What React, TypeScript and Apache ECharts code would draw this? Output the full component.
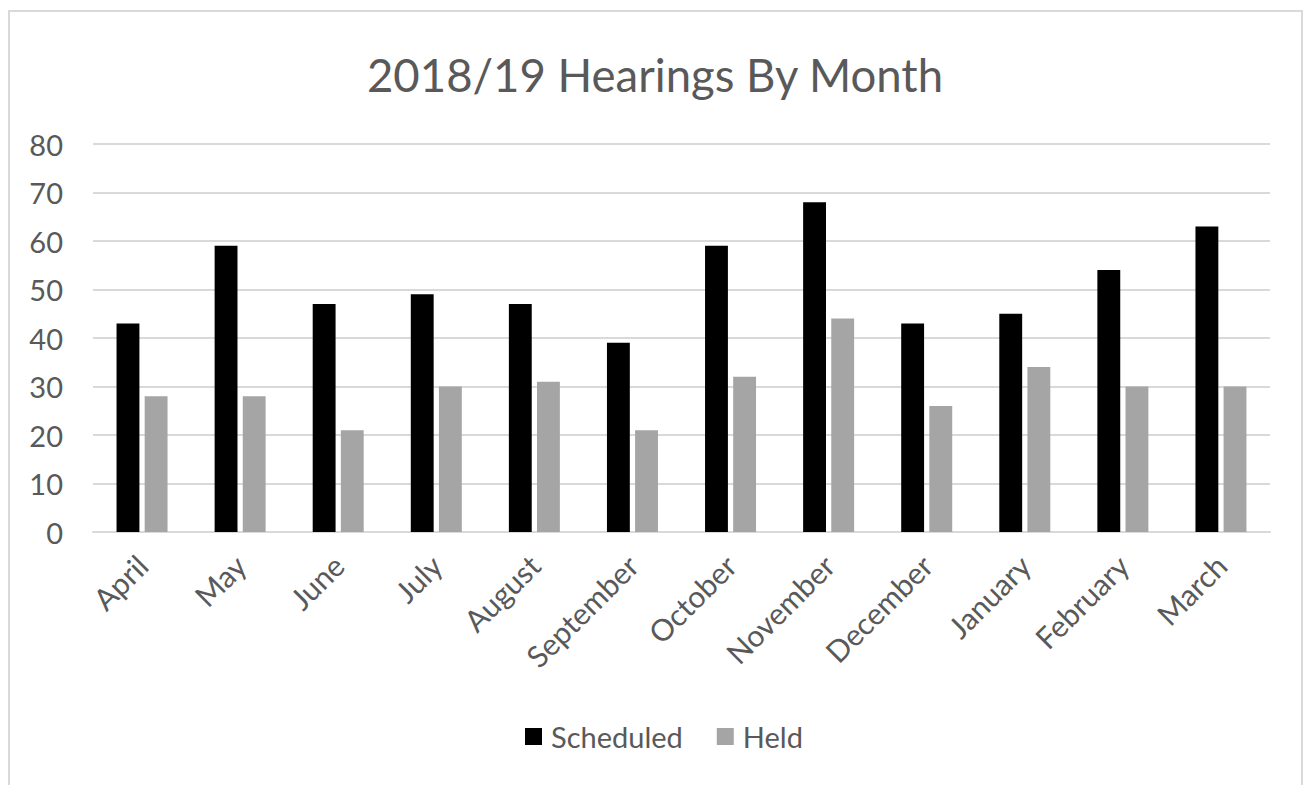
import React, { useEffect, useRef } from "react";
import * as echarts from "echarts";

const months = ["April", "May", "June", "July", "August", "September", "October", "November", "December", "January", "February", "March"];
const scheduled = [43, 59, 47, 49, 47, 39, 59, 68, 43, 45, 54, 63];
const held = [28, 28, 21, 30, 31, 21, 32, 44, 26, 34, 30, 30];
const titleText = "2018/19 Hearings By Month";

const FONT = "Lato";
const TEXT = "#595959";

export default function App() {
  const ref = useRef<HTMLDivElement>(null);
  useEffect(() => {
    if (!ref.current) return;
    const chart = echarts.init(ref.current, undefined, { renderer: "svg" });
    chart.setOption({
      animation: false,
      backgroundColor: "#ffffff",
      title: {
        text: titleText,
        left: "center",
        top: 46,
        textStyle: { fontFamily: FONT, fontSize: 45.5, fontWeight: "normal", color: TEXT },
      },
      graphic: [
        {
          type: "rect",
          shape: { x: 9, y: 11, width: 1293, height: 820 },
          style: { fill: "none", stroke: "#d9d9d9", lineWidth: 2 },
          silent: true,
        },
      ],
      legend: {
        top: 717,
        left: 520,
        itemWidth: 17,
        itemHeight: 17,
        itemGap: 34,
        icon: "rect",
        textStyle: { fontFamily: FONT, fontSize: 29, color: TEXT, padding: [0, 0, 0, 4] },
        data: ["Scheduled", "Held"],
      },
      grid: { left: 93, right: 40, top: 144, bottom: 253 },
      xAxis: {
        type: "category",
        data: months,
        axisLine: { show: true, lineStyle: { color: "#d9d9d9", width: 2 } },
        axisTick: { show: false },
        axisLabel: { rotate: 45, fontFamily: FONT, fontSize: 30, color: TEXT, margin: 28, interval: 0 },
      },
      yAxis: {
        type: "value",
        min: 0,
        max: 80,
        interval: 10,
        axisLine: { show: false },
        axisTick: { show: false },
        splitLine: { lineStyle: { color: "#d9d9d9", width: 2 } },
        axisLabel: { fontFamily: FONT, fontSize: 29, color: TEXT, margin: 30 },
      },
      series: [
        {
          name: "Scheduled",
          type: "bar",
          data: scheduled,
          itemStyle: { color: "#000000" },
          barGap: "23%",
          barCategoryGap: "48%",
        },
        {
          name: "Held",
          type: "bar",
          data: held,
          itemStyle: { color: "#a5a5a5" },
          barGap: "23%",
          barCategoryGap: "48%",
        },
      ],
    });
    return () => chart.dispose();
  }, []);
  return <div ref={ref} style={{ position: "fixed", left: 0, top: 0, width: 1310, height: 785 }} />;
}
